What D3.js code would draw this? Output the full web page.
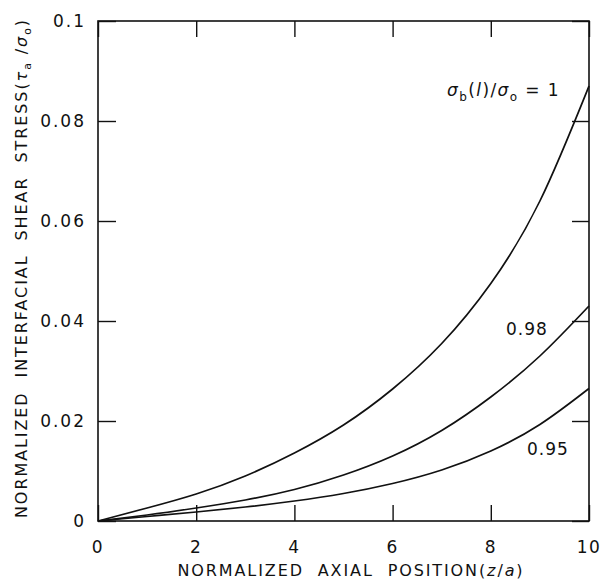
<!DOCTYPE html>
<html><head><meta charset="utf-8">
<script src="https://cdn.jsdelivr.net/npm/d3@7"></script>
<style>
body{margin:0;background:#fff;}
text{font-family:"DejaVu Sans",Arial,sans-serif;fill:#111;white-space:pre;}
</style></head>
<body><svg id="c" width="610" height="581"></svg>
<script>
const xs = [0,1,2,3,4,5,6,7,8,9,10];
const s100 = [0,0.0026,0.0054,0.0090,0.0136,0.0192,0.0264,0.0355,0.0475,0.0640,0.087];
const s098 = [0,0.0012,0.0026,0.0042,0.0063,0.0092,0.0130,0.0181,0.0248,0.0330,0.043];
const s095 = [0,0.0009,0.0018,0.0028,0.0040,0.0055,0.0075,0.0102,0.0140,0.0193,0.0265];
const xTicks = [0,2,4,6,8,10];
const xTickLabels = ["0","2","4","6","8","10"];
const yTicks = [0,0.02,0.04,0.06,0.08,0.1];
const yTickLabels = ["0","0.02","0.04","0.06","0.08","0.1"];

const svg = d3.select("#c");
const L=98,R=589,T=21,B=521;
const x = d3.scaleLinear().domain([0,10]).range([L,R]);
const y = d3.scaleLinear().domain([0,0.1]).range([B,T]);

svg.append("rect").attr("x",L).attr("y",T).attr("width",R-L).attr("height",B-T)
  .attr("fill","none").attr("stroke","#111").attr("stroke-width",1.6);

const gB = svg.append("g").attr("transform",`translate(0,${B})`)
  .call(d3.axisTop(x).tickValues(xTicks).tickSize(16).tickFormat(""));
const gT = svg.append("g").attr("transform",`translate(0,${T})`)
  .call(d3.axisBottom(x).tickValues(xTicks).tickSize(16).tickFormat(""));
const gL = svg.append("g").attr("transform",`translate(${L},0)`)
  .call(d3.axisRight(y).tickValues(yTicks).tickSize(18).tickFormat(""));
const gR = svg.append("g").attr("transform",`translate(${R},0)`)
  .call(d3.axisLeft(y).tickValues(yTicks).tickSize(17).tickFormat(""));
[gB,gT,gL,gR].forEach(g=>{g.select(".domain").remove();
  g.selectAll("line").attr("stroke","#111").attr("stroke-width",1.4);});

svg.append("g").selectAll("text").data(xTicks).join("text")
  .attr("x",d=>x(d)).attr("y",553).attr("text-anchor","middle")
  .attr("font-size",17).attr("letter-spacing",1.5).text((d,i)=>xTickLabels[i]);
svg.append("g").selectAll("text").data(yTicks).join("text")
  .attr("x",86).attr("y",d=>y(d)+6).attr("text-anchor","end")
  .attr("font-size",17).attr("letter-spacing",2).text((d,i)=>yTickLabels[i]);

const line = d3.line().x(d=>x(d[0])).y(d=>y(d[1])).curve(d3.curveNatural);
[s100,s098,s095].forEach(s=>{
  svg.append("path").datum(xs.map((v,i)=>[v,s[i]])).attr("d",line)
    .attr("fill","none").attr("stroke","#111").attr("stroke-width",1.7);
});

const lab = svg.append("text").attr("x",447).attr("y",96).attr("font-size",17).attr("letter-spacing",1.4);
lab.append("tspan").attr("font-style","italic").text("σ");
lab.append("tspan").attr("font-size",12).attr("dy",5).text("b");
lab.append("tspan").attr("dy",-5).text("(");
lab.append("tspan").attr("font-style","italic").text("l");
lab.append("tspan").text(")/");
lab.append("tspan").attr("font-style","italic").text("σ");
lab.append("tspan").attr("font-size",12).attr("dy",5).text("o");
lab.append("tspan").attr("dy",-5).text(" = 1");
svg.append("text").attr("x",506).attr("y",335).attr("font-size",17).attr("letter-spacing",1).text("0.98");
svg.append("text").attr("x",527).attr("y",455).attr("font-size",17).attr("letter-spacing",1).text("0.95");

function fit(sel, target){
  const n = sel.text().length;
  const w = sel.node().getComputedTextLength();
  sel.attr("letter-spacing", (target - w)/n);
}

const xt = svg.append("text").attr("x",351).attr("y",576).attr("text-anchor","middle")
  .attr("font-size",16);
xt.append("tspan").text("NORMALIZED  AXIAL  POSITION(");
xt.append("tspan").attr("font-style","italic").text("z");
xt.append("tspan").text("/");
xt.append("tspan").attr("font-style","italic").text("a");
xt.append("tspan").text(")");
fit(xt, 347);

const yt = svg.append("text").attr("transform","translate(27,268) rotate(-90)")
  .attr("text-anchor","middle").attr("font-size",16);
yt.append("tspan").text("NORMALIZED  INTERFACIAL  SHEAR  STRESS(");
yt.append("tspan").attr("font-style","italic").text("τ");
yt.append("tspan").attr("font-size",11).attr("dy",4).text("a");
yt.append("tspan").attr("dy",-4).text(" /");
yt.append("tspan").attr("font-style","italic").text("σ");
yt.append("tspan").attr("font-size",11).attr("dy",4).text("o");
yt.append("tspan").attr("dy",-4).text(")");
fit(yt, 500);
</script></body></html>
